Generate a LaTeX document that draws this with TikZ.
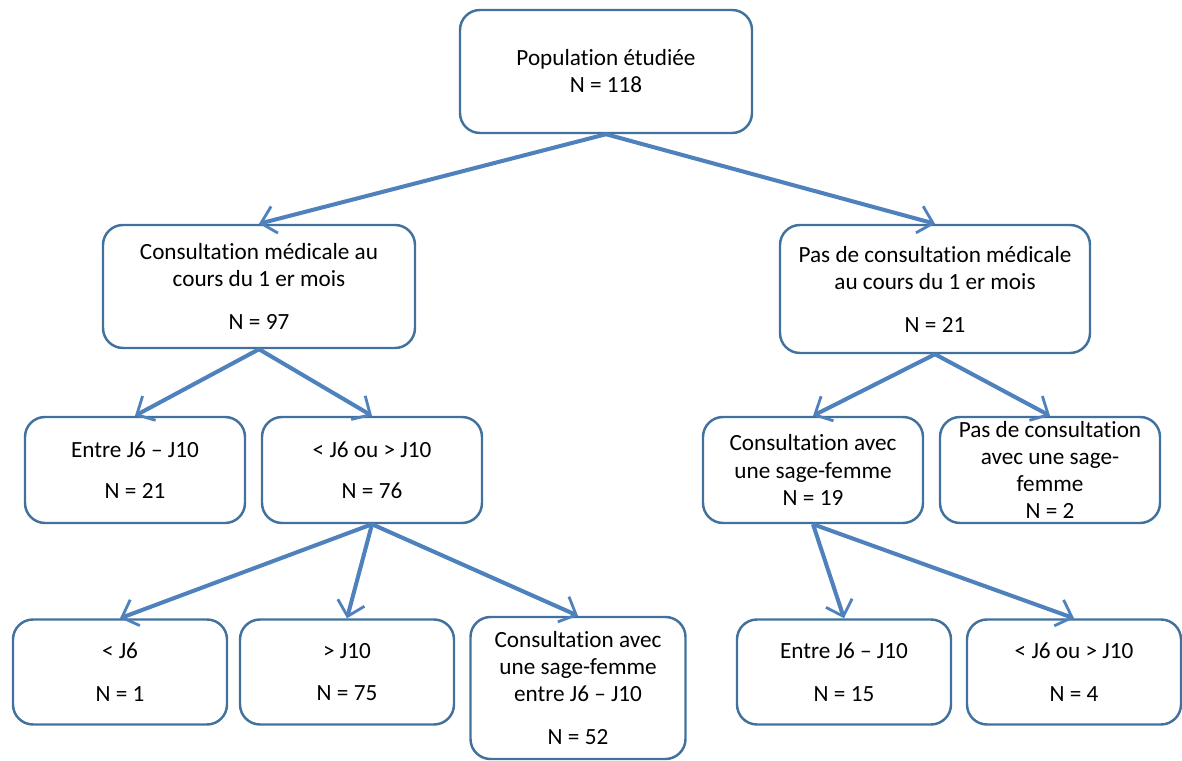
\documentclass[tikz,border=0pt]{standalone}
\usepackage{fontspec}
\setmainfont{Carlito}[Ligatures=NoCommon]
\usetikzlibrary{arrows.meta}

\definecolor{boxblue}{HTML}{41719C}
\definecolor{arrowblue}{HTML}{4F81BD}

\begin{document}
\begin{tikzpicture}[
			box/.style={
				draw=boxblue,
				line width=1.4pt,
				rounded corners=0.4cm,
				align=center,
				minimum width=4.3cm,
				minimum height=2.1cm,
				inner sep=2pt,
				font=\fontsize{13.2}{15.4}\selectfont
			},
			edge/.style={
				draw=arrowblue,
				line width=2.3pt,
				-{Straight Barb[length=2.8mm,width=5.5mm,line width=1.6pt]}
			}
			]
			\useasboundingbox (0,0) rectangle (23.64,15.22);

			% level 0
			\node[box, minimum width=5.84cm, minimum height=2.46cm] (top) at (12.12,13.79) {Population étudiée\\N = 118};

			% level 1
			\node[box, minimum width=6.24cm, minimum height=2.46cm] (l1) at (5.18,9.49) {Consultation médicale au\\cours du 1 er mois\\[9pt]N = 97};
			\node[box, minimum width=6.2cm, minimum height=2.56cm] (r1) at (18.70,9.44) {Pas de consultation médicale\\au cours du 1 er mois\\[9pt]N = 21};

			% level 2
			\node[box, minimum width=4.4cm, minimum height=2.12cm] (l21) at (2.70,5.82) {Entre J6 -- J10\\[8pt]N = 21};
			\node[box, minimum width=4.4cm, minimum height=2.12cm] (l22) at (7.44,5.82) {< J6 ou > J10\\[8pt]N = 76};
			\node[box, minimum width=4.4cm, minimum height=2.12cm] (r21) at (16.26,5.82) {Consultation avec\\une sage-femme\\N = 19};
			\node[box, minimum width=4.4cm, minimum height=2.12cm, inner ysep=0pt] (r22) at (21.00,5.82) {Pas de consultation\\avec une sage-\\femme\\N = 2};

			% level 3
			\node[box, minimum width=4.28cm] (l31) at (2.40,1.78) {< J6\\[9pt]N = 1};
			\node[box, minimum width=4.28cm] (l32) at (6.94,1.78) {> J10\\[9pt]N = 75};
			\node[box, minimum width=4.3cm, minimum height=2.84cm] (l33) at (11.56,1.46) {Consultation avec\\une sage-femme\\entre J6 -- J10\\[9pt]N = 52};
			\node[box, minimum width=4.28cm] (r31) at (16.88,1.78) {Entre J6 -- J10\\[9pt]N = 15};
			\node[box, minimum width=4.28cm] (r32) at (21.48,1.78) {< J6 ou > J10\\[9pt]N = 4};

			% arrows
			\draw[edge] (top.south) -- (l1.north);
			\draw[edge] (top.south) -- (r1.north);
			\draw[edge] (l1.south) -- (l21.north);
			\draw[edge] (l1.south) -- (l22.north);
			\draw[edge] (r1.south) -- (r21.north);
			\draw[edge] (r1.south) -- (r22.north);
			\draw[edge] (l22.south) -- (l31.north);
			\draw[edge] (l22.south) -- (l32.north);
			\draw[edge] (l22.south) -- (l33.north);
			\draw[edge] (r21.south) -- (r31.north);
			\draw[edge] (r21.south) -- (r32.north);
		\end{tikzpicture}
\end{document}
